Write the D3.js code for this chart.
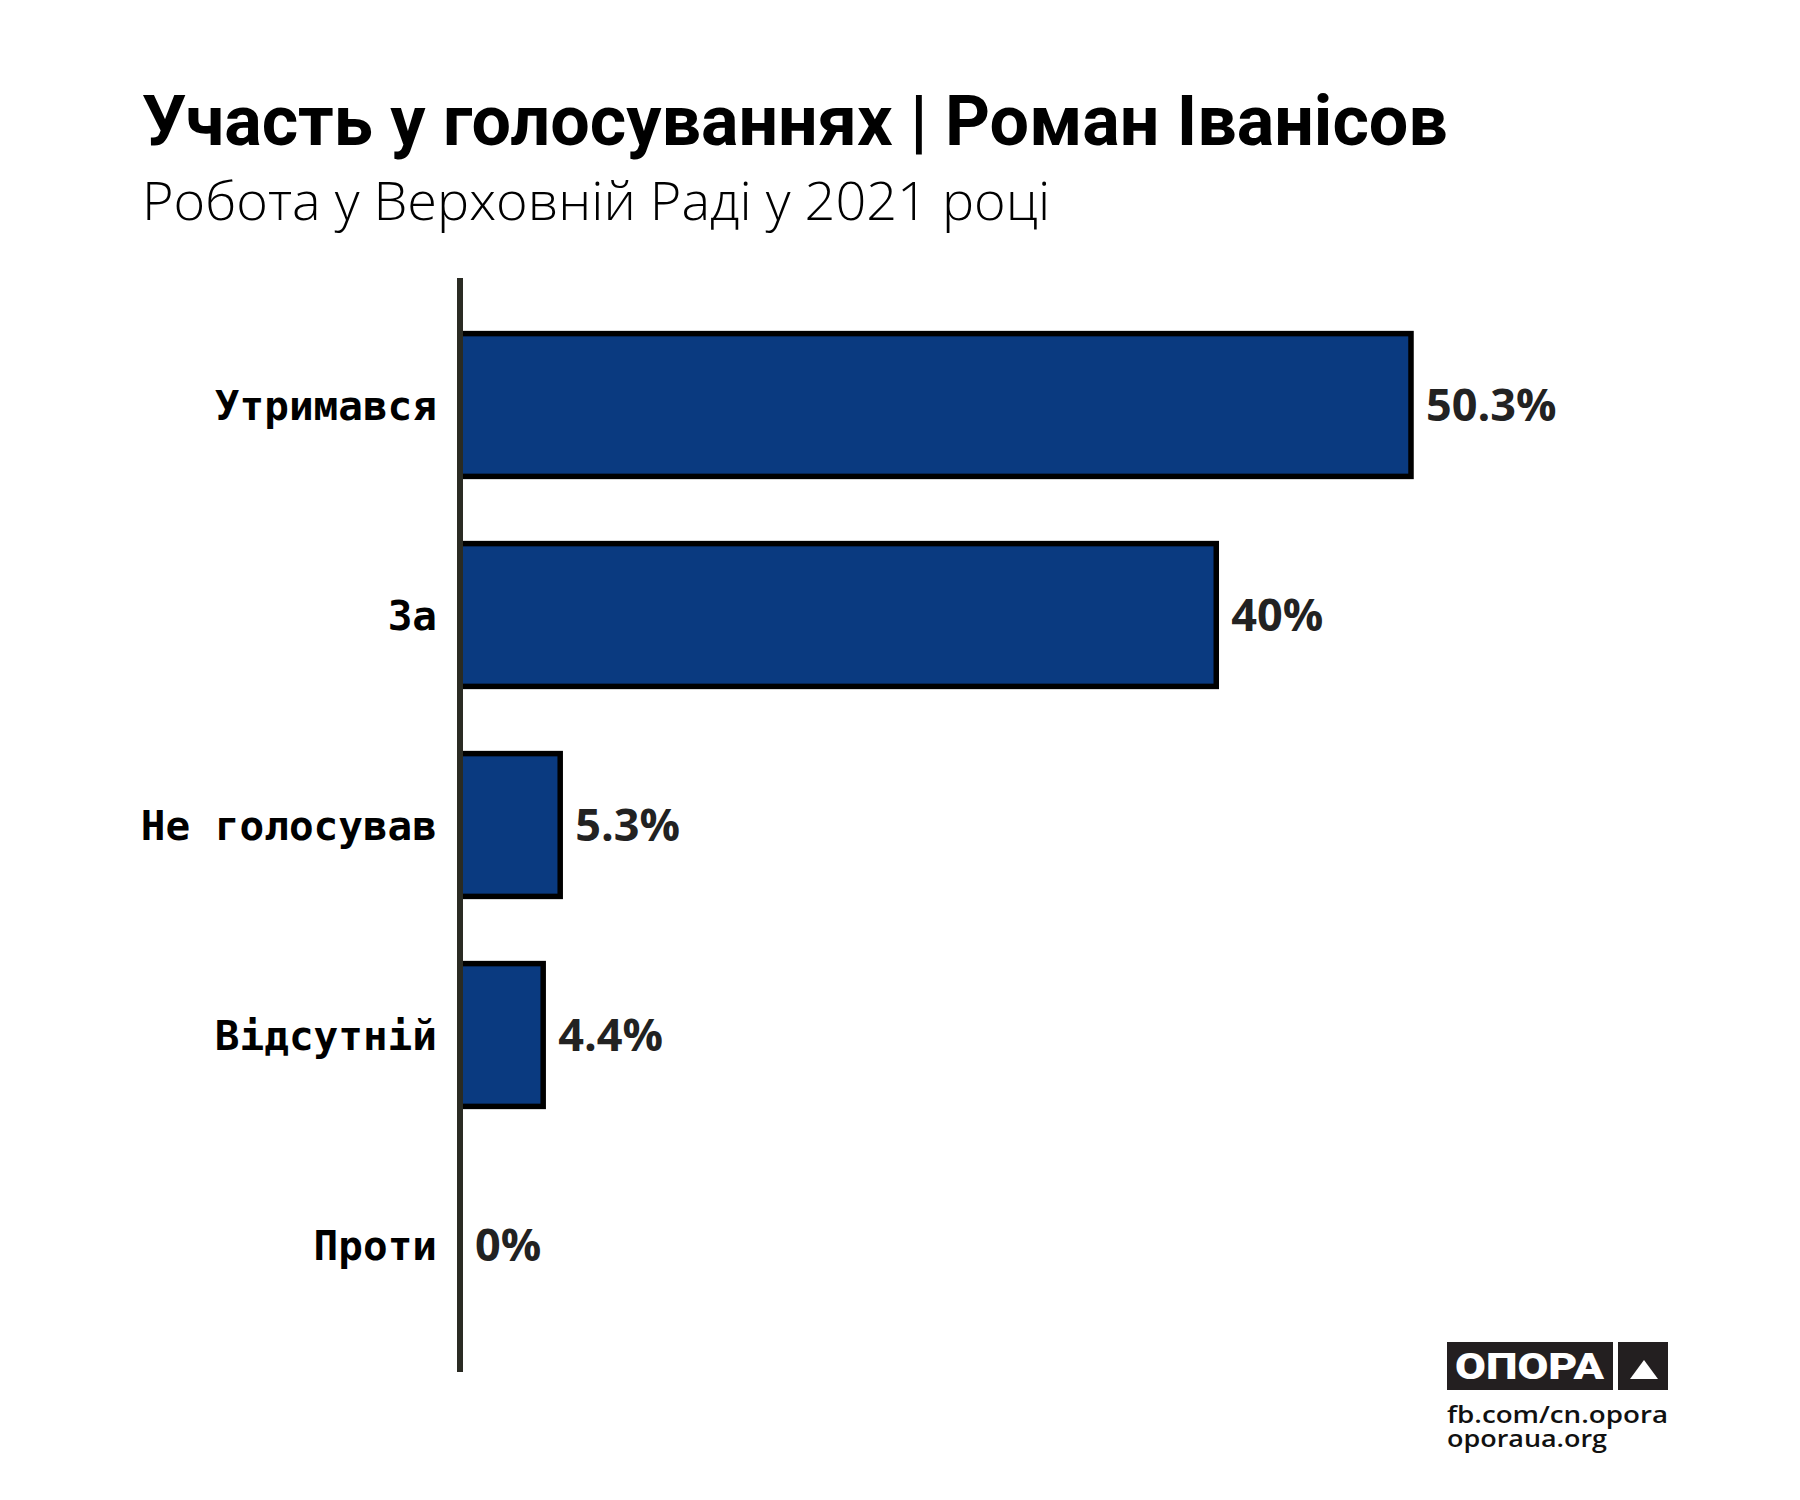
<!DOCTYPE html>
<html>
<head>
<meta charset="utf-8">
<script src="https://cdn.jsdelivr.net/npm/d3@7"></script>
<style>
  body { margin: 0; background: #fff; }
  svg { display: block; }
</style>
</head>
<body>
<svg id="chart" width="1800" height="1500"></svg>
<script>
// vote participation, percent of all votes
const categories = ["Утримався", "За", "Не голосував", "Відсутній", "Проти"];
const shares = [50.3, 40, 5.3, 4.4, 0];
const shareLabels = ["50.3%", "40%", "5.3%", "4.4%", "0%"];

const titleText = "Участь у голосуваннях | Роман Іванісов";
const subtitleText = "Робота у Верховній Раді у 2021 році";
const footerLines = ["fb.com/cn.opora", "oporaua.org"];

const svg = d3.select("#chart");
const W = 1800, H = 1500;
svg.append("rect").attr("width", W).attr("height", H).attr("fill", "#fff");

// --- titles ---
svg.append("text")
    .attr("x", 142).attr("y", 145)
    .attr("font-family", "Roboto").attr("font-weight", 700)
    .attr("font-size", 70).attr("fill", "#000")
    .text(titleText);

svg.append("text")
    .attr("x", 142).attr("y", 220)
    .attr("font-family", "'Open Sans'").attr("font-weight", 300)
    .attr("font-size", 54).attr("fill", "#000")
    .text(subtitleText);

// --- scales ---
const axisX = 460;
const x = d3.scaleLinear().domain([0, 50.3]).range([axisX, 1411]);
const y = d3.scaleBand().domain(categories).range([300, 1350])
    .paddingInner(0.32).paddingOuter(0.16);

const data = categories.map((c, i) => ({ cat: c, v: shares[i], label: shareLabels[i] }));

// bars
svg.append("g").selectAll("rect").data(data.filter(d => d.v > 0)).enter().append("rect")
    .attr("x", x(0))
    .attr("y", d => y(d.cat))
    .attr("width", d => x(d.v) - x(0))
    .attr("height", y.bandwidth())
    .attr("fill", "#0a3a80")
    .attr("stroke", "#000")
    .attr("stroke-width", 5.5);

// axis line
svg.append("line")
    .attr("x1", axisX).attr("x2", axisX)
    .attr("y1", 278).attr("y2", 1372)
    .attr("stroke", "#2a2b23").attr("stroke-width", 6);

// category labels
svg.append("g").selectAll("text").data(data).enter().append("text")
    .attr("x", axisX - 23)
    .attr("y", d => y(d.cat) + y.bandwidth() / 2 + 15)
    .attr("text-anchor", "end")
    .attr("font-family", "'DejaVu Sans Mono'").attr("font-weight", 700)
    .attr("font-size", 41).attr("fill", "#000")
    .text(d => d.cat);

// value labels
svg.append("g").selectAll("text").data(data).enter().append("text")
    .attr("x", d => x(d.v) + 15)
    .attr("y", d => y(d.cat) + y.bandwidth() / 2 + 16)
    .attr("font-family", "'Open Sans'").attr("font-weight", 700)
    .attr("font-size", 45).attr("fill", "#222")
    .text(d => d.label);

// --- logo ---
const logo = svg.append("g");
logo.append("rect").attr("x", 1447).attr("y", 1342).attr("width", 166).attr("height", 48).attr("fill", "#231f20");
logo.append("rect").attr("x", 1618).attr("y", 1342).attr("width", 50).attr("height", 48).attr("fill", "#231f20");
logo.append("text")
    .attr("x", 1455).attr("y", 1379)
    .attr("textLength", 149).attr("lengthAdjust", "spacingAndGlyphs")
    .attr("font-family", "Roboto").attr("font-weight", 900)
    .attr("font-size", 37).attr("fill", "#fff")
    .text("ОПОРА");
logo.append("path")
    .attr("d", "M1644,1360 L1658,1379 L1630,1379 Z")
    .attr("fill", "#fff");

logo.selectAll("text.foot").data(footerLines).enter().append("text")
    .attr("class", "foot")
    .attr("x", 1447)
    .attr("y", (d, i) => 1423 + i * 24)
    .attr("textLength", (d, i) => i === 0 ? 221 : 160)
    .attr("lengthAdjust", "spacingAndGlyphs")
    .attr("font-family", "'Open Sans'").attr("font-weight", 600)
    .attr("font-size", 24).attr("fill", "#111")
    .text(d => d);
</script>
</body>
</html>
